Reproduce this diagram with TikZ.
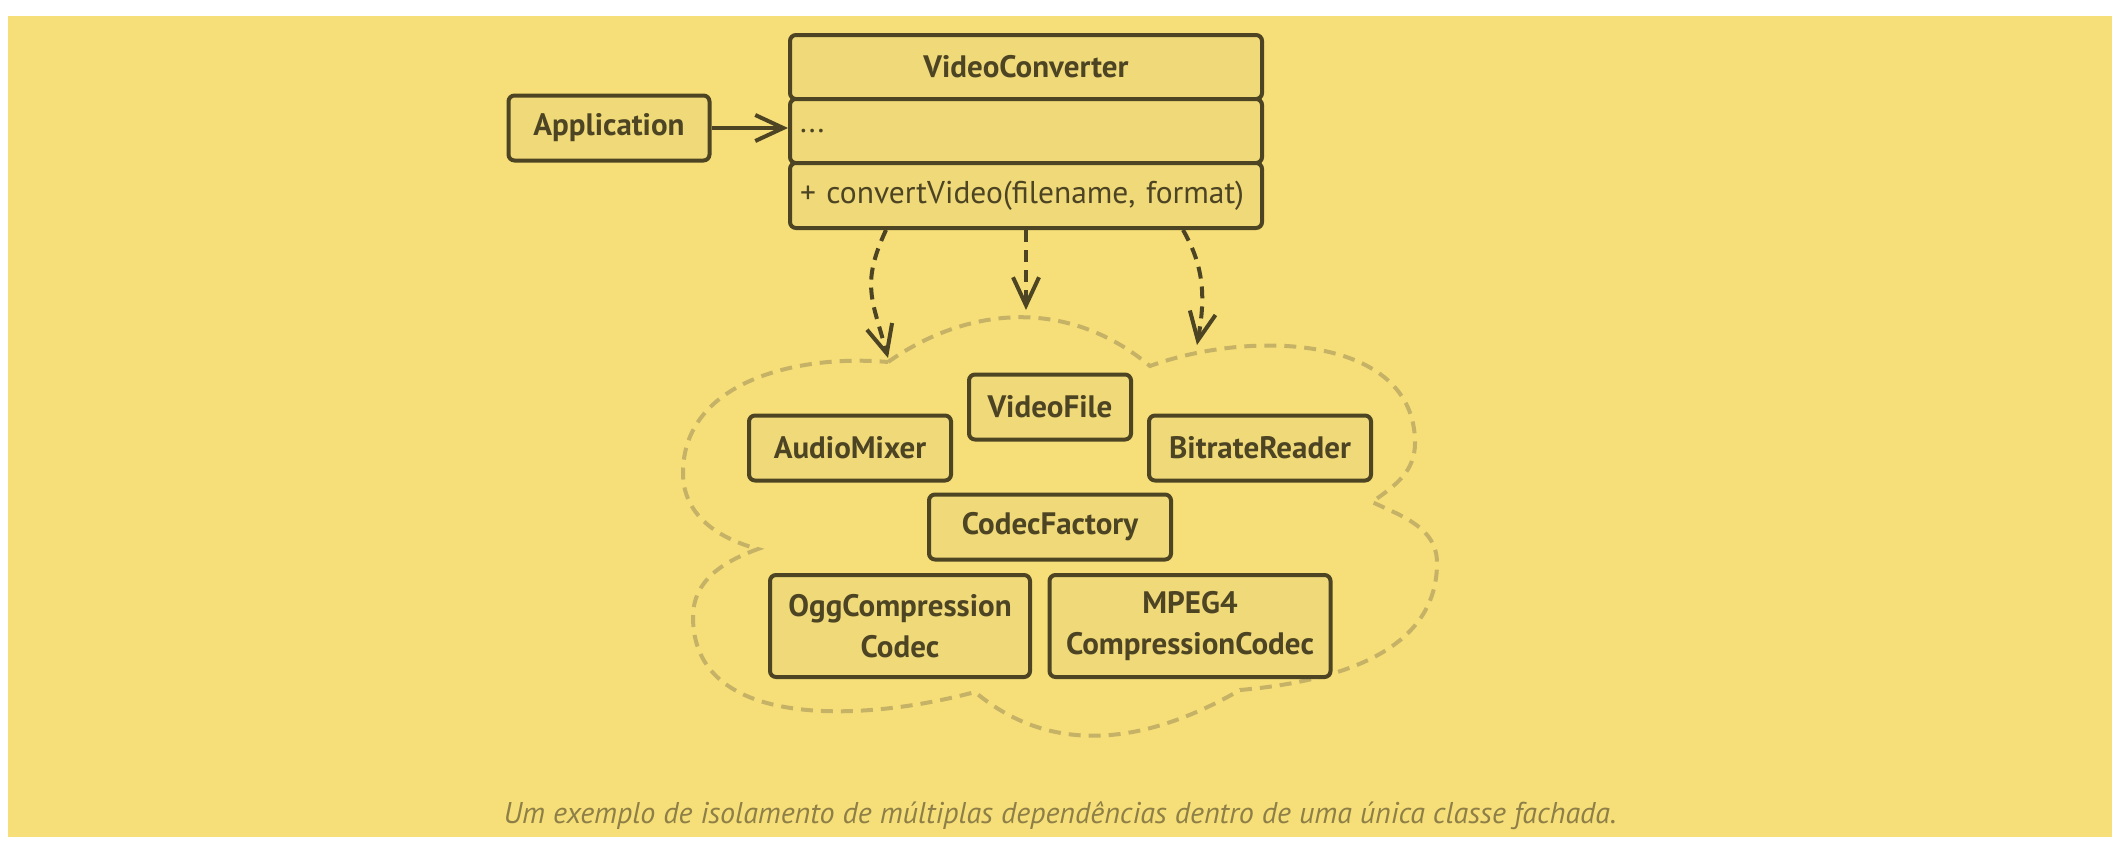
\documentclass[tikz,border=0pt]{standalone}
\usepackage{fontspec}
\setmainfont{PT Sans}
\usetikzlibrary{arrows.meta}

\definecolor{bgyellow}{HTML}{F6DF78}
\definecolor{boxfill}{HTML}{EFD978}
\definecolor{inkbrown}{HTML}{4D4424}
\definecolor{cloudline}{HTML}{C5B267}
\definecolor{captiontext}{HTML}{8D7F47}

\tikzset{
  classbox/.style={draw=inkbrown, fill=boxfill, line width=4pt, rounded corners=6pt,
    text=inkbrown, font=\fontsize{31}{41}\selectfont\bfseries, align=center,
    inner sep=0pt, minimum height=65pt},
  member/.style={classbox, font=\fontsize{31.5}{37}\selectfont, align=left,
    inner xsep=10pt, text width=452pt, minimum width=472pt, minimum height=64pt},
  uses/.style={draw=inkbrown, line width=4pt, -{Straight Barb[length=28pt,width=26pt]}},
  depends/.style={uses, dash pattern=on 12pt off 8pt},
}

\begin{document}
\begin{tikzpicture}[x=1pt, y=1pt]
  \useasboundingbox (0,0) rectangle (2114,-854);
  \fill[bgyellow] (8,-16) rectangle (2112,-837);

  % facade and its client
  \node[classbox, minimum width=201pt] (app) at (609,-128) {Application};
  \node[classbox, minimum width=472pt, minimum height=64pt] (vcTitle) at (1026,-67) {VideoConverter};
  \node[member] (vcAttr) at (1026,-131) {...};
  \node[member, minimum height=65pt] (vcOps) at (1026,-195.5) {+ convertVideo(filename, format)};
  \draw[uses] (app.east) -- (app.east -| vcAttr.west);

  % the subsystem cloud
  \draw[cloudline, line width=4pt, dash pattern=on 12pt off 8pt]
    (888,-362) to[out=35,in=140] (1150,-366)
    to[out=20,in=90] (1415,-443)
    to[out=-90,in=35] (1372,-502)
    to[out=-25,in=90] (1437,-563)
    to[out=-90,in=5] (1240,-690)
    to[out=-150,in=-40] (975,-692)
    to[out=-165,in=-90] (693,-617)
    to[out=90,in=-160] (758,-549)
    to[out=165,in=-90] (683,-473)
    to[out=90,in=175] (888,-362);

  \node[classbox, minimum width=202pt] (mixer) at (850,-448) {AudioMixer};
  \node[classbox, minimum width=162pt] (file) at (1050,-407) {VideoFile};
  \node[classbox, minimum width=222pt] (bitrate) at (1260,-448) {BitrateReader};
  \node[classbox, minimum width=242pt] (factory) at (1050,-527) {CodecFactory};
  \node[classbox, minimum width=260pt, minimum height=102pt] (ogg) at (900,-626) {OggCompression\\Codec};
  \node[classbox, minimum width=281pt, minimum height=102pt] (mpeg) at (1190,-626) {MPEG4\\CompressionCodec};

  % dependencies into the cloud
  \coordinate (leftIn) at (888,-358);
  \coordinate (midIn) at (1026,-310);
  \coordinate (rightIn) at (1197,-345);
  \draw[depends] ([xshift=-140pt]vcOps.south) to[out=-115,in=105,looseness=1.2] (leftIn);
  \draw[depends] (vcOps.south) -- (midIn);
  \draw[depends] ([xshift=157pt]vcOps.south) to[out=-60,in=80] (rightIn);

  \node[text=captiontext, font=\fontsize{30}{36}\selectfont\itshape] (caption) at (1060,-816)
    {Um exemplo de isolamento de múltiplas dependências dentro de uma única classe fachada.};
\end{tikzpicture}
\end{document}
